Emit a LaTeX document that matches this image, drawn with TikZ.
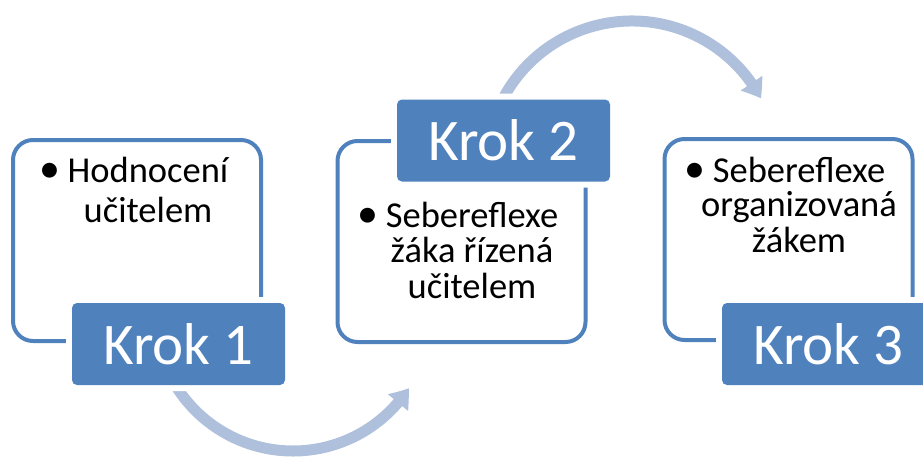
\documentclass[tikz,border=0pt]{standalone}
\usepackage{fontspec}
\setmainfont{Carlito}
\usetikzlibrary{arrows.meta,bending}
\definecolor{stepblue}{RGB}{79,129,189}
\definecolor{flowarrow}{RGB}{175,192,220}
% bullet hung to the left of a centred first line
\newcommand{\hangbul}{\llap{\raisebox{-0.5pt}{\fontsize{42}{42}\selectfont •}\hspace{7pt}}}
\begin{document}
\begin{tikzpicture}[x=1pt,y=-1pt,
  frame/.style={draw=stepblue, line width=4pt, rounded corners=20pt,
    minimum width=248pt, minimum height=201pt, inner sep=0pt},
  krokbox/.style={fill=stepblue, rounded corners=5pt,
    preaction={draw=white, line width=12pt},
    minimum width=213pt, minimum height=82pt, inner sep=0pt,
    text=white, font=\fontsize{59}{60}\selectfont},
  bodyline/.style={anchor=base, inner sep=0pt, font=\fontsize{36.5}{40}\selectfont},
  flow/.style={draw=flowarrow, line width=11pt,
    -{Triangle[width=25pt,length=18pt,bend]}}]
\useasboundingbox (0,0) rectangle (923,456);
\clip (0,0) rectangle (923,456);

% curved arrows between the steps
\draw[flow] (293,313) ++(148:138) arc[start angle=148, end angle=33, radius=138];
\draw[flow] (632,167) ++(-151:146) arc[start angle=-151, end angle=-28, radius=146];

% outlined content frames
\node[frame] (f1) at (137,240.5) {};
\node[frame] (f2) at (461.5,241.5) {};
\node[frame] (f3) at (788.5,239.5) {};

% step labels
\node[krokbox] (k1) at (178.5,344) {Krok 1};
\node[krokbox] (k2) at (503.5,140.5) {Krok 2};
\node[krokbox] (k3) at (828.5,344) {Krok 3};

% bullet texts
\node[bodyline] (t1a) at (148,182) {\hangbul Hodnocení};
\node[bodyline] (t1b) at (148,222) {učitelem};

\node[bodyline] (t2a) at (472,227) {\hangbul Sebereflexe};
\node[bodyline] (t2b) at (472,262) {žáka řízená};
\node[bodyline] (t2c) at (472,298) {učitelem};

\node[bodyline] (t3a) at (799,182) {\hangbul Sebereflexe};
\node[bodyline] (t3b) at (799,216) {organizovaná};
\node[bodyline] (t3c) at (799,252) {žákem};
\end{tikzpicture}
\end{document}
